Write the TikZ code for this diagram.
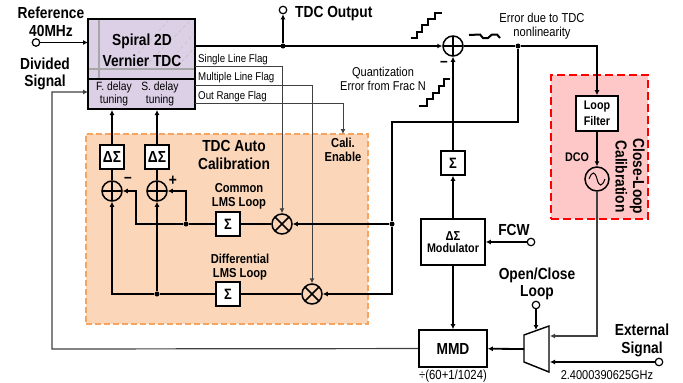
\documentclass[tikz,border=0pt]{standalone}
\usepackage{fontspec}
\setmainfont[FakeStretch=0.86]{Liberation Sans}
\usetikzlibrary{arrows.meta}
\definecolor{tdcfill}{HTML}{DCD0E6}
\definecolor{autofill}{HTML}{FBD6B8}
\definecolor{autoedge}{HTML}{F5A55F}
\definecolor{loopfill}{HTML}{FFC8C8}
\definecolor{darkline}{HTML}{404040}
\newcommand{\bigfont}{\fontsize{16}{17.5}\selectfont\bfseries}
\newcommand{\midfont}{\fontsize{13}{14}\selectfont\bfseries}
\newcommand{\smallfont}{\fontsize{12}{13}\selectfont}

\begin{document}
\begin{tikzpicture}[x=1pt,y=-1pt,>={Latex[length=5pt,width=5pt]},
  wire/.style={line width=1.5pt},
  thin wire/.style={line width=1pt,darkline},
  block/.style={draw,line width=1.6pt,fill=white,inner sep=0pt,align=center},
  sigma/.style={block,minimum size=24pt,font=\fontsize{15}{15}\selectfont\bfseries},
  port/.style={circle,draw,line width=1.2pt,fill=white,inner sep=0pt,minimum size=7.5pt},
  junction/.style={circle,fill,inner sep=0pt,minimum size=5pt},
  adder/.style={circle,draw,line width=1.5pt,inner sep=0pt,minimum size=20pt,
    path picture={\draw[line width=1.5pt]
      (path picture bounding box.north) -- (path picture bounding box.south)
      (path picture bounding box.west) -- (path picture bounding box.east);}},
  mixer/.style={circle,draw,line width=1.5pt,inner sep=0pt,minimum size=20pt,
    path picture={\draw[line width=1.5pt]
      (path picture bounding box.north west) -- (path picture bounding box.south east)
      (path picture bounding box.south west) -- (path picture bounding box.north east);}},
  big/.style={font=\bigfont,align=center,inner sep=0pt},
  mid/.style={font=\midfont,align=center,inner sep=0pt},
  small/.style={font=\smallfont,align=center,inner sep=0pt}]
  \useasboundingbox (0,0) rectangle (683,383);
  % shaded regions
  \node[draw=autoedge,fill=autofill,dash pattern=on 6pt off 3pt,line width=1.3pt,minimum width=282pt,minimum height=190pt,inner sep=0pt] (auto) at (227,229) {};
  \node[draw=red,fill=loopfill,dash pattern=on 8pt off 4pt,line width=1.4pt,minimum width=97pt,minimum height=144pt,inner sep=0pt] (closeloop) at (599.5,147) {};
  % TDC core
  \node[block,fill=tdcfill,minimum width=107pt,minimum height=90pt] (tdc) at (141.5,64) {};
  \draw[gray!45,dashed,line width=0.8pt] (130,62) -- (168,21) (145,66) -- (190,21) (165,66) -- (194,34) (178,66) -- (194,48);
  \draw[gray!70,line width=1.3pt] (99,20) -- (99,78) (89,69) -- (194,69);
  \draw[line width=1.6pt] (88,79) -- (195,79);
  \node[big] (tdcname) at (142,50) {Spiral 2D\\[3.5pt]Vernier TDC};
  \node[small] (fine) at (114,94) {F. delay\\tuning};
  \node[small] (coarse) at (160,94) {S. delay\\tuning};
  % inputs and outputs
  \node[big] (ref) at (51,22) {Reference\\40MHz};
  \node[port] (refin) at (36,42.5) {};
  \draw[->,line width=1pt] (refin) -- (88,42.5);
  \node[big] (divided) at (45,74) {Divided\\Signal};
  \node[big,anchor=west] (tdcout) at (295,14) {TDC Output};
  \node[port] (outpin) at (283,10) {};
  \node[junction] (outdot) at (283,46) {};
  \draw[->,wire] (outdot) -- (outpin);
  % phase error summer
  \node[adder] (sum) at (453,46) {};
  \draw[->,wire] (195,46) -- (sum);
  \node[junction] (errdot) at (518,46) {};
  \node[block,minimum width=42pt,minimum height=35pt,font=\fontsize{12.5}{16}\selectfont\bfseries] (filter) at (597,113.5) {Loop\\Filter};
  \draw[->,wire] (sum) -- (errdot) -| (filter);
  \draw[line width=2pt] (411,38) -- (417,38) -- (417,32) -- (422,32) -- (422,25) -- (428,25) -- (428,19) -- (435,19) -- (435,13) -- (442,13);
  \draw[line width=2pt] (419,106) -- (427,106) -- (427,99) -- (433,99) -- (433,93) -- (439,93) -- (439,86) -- (444,86) -- (444,79) -- (450,79);
  \draw[line width=2pt] (469,35) -- (480,34.5) -- (483,38) -- (488,38) -- (492,34.5) -- (497,34.5) -- (500,38);
  \node[small,font=\fontsize{13}{14}\selectfont] (errlab) at (542,26) {Error due to TDC\\nonlinearity};
  \node[small,font=\fontsize{12.8}{14}\selectfont] (quant) at (383,79) {Quantization\\Error from Frac N};
  \node[big] (minus) at (444,64) {--};
  % flags
  \node[small,anchor=west,font=\fontsize{11.3}{11}\selectfont] (single) at (198,60) {Single Line Flag};
  \node[small,anchor=west,font=\fontsize{11.3}{11}\selectfont] (multiple) at (198,78) {Multiple Line Flag};
  \node[small,anchor=west,font=\fontsize{11.3}{11}\selectfont] (range) at (198,97) {Out Range Flag};
  % auto calibration
  \node[big] (autoname) at (234,155) {TDC Auto\\Calibration};
  \node[mid] (enable) at (343,150) {Cali.\\Enable};
  \node[block,minimum size=24pt,font=\bigfont] (dsf) at (112,157) {ΔΣ};
  \node[block,minimum size=24pt,font=\bigfont] (dss) at (157,157) {ΔΣ};
  \node[adder] (addf) at (112,191) {};
  \node[adder] (adds) at (157,191) {};
  \node[big] (minusf) at (128,180) {--};
  \node[big] (pluss) at (173,181) {+};
  \node[sigma] (sigc) at (228,224) {Σ};
  \node[sigma] (sigd) at (228,294) {Σ};
  \node[mixer] (mixc) at (282,224) {};
  \node[mixer] (mixd) at (312,294) {};
  \node[mid] (commonlab) at (239,196) {Common\\LMS Loop};
  \node[mid] (difflab) at (240,267) {Differential\\LMS Loop};
  \node[junction] (cdot) at (186,224) {};
  \node[junction] (ddot) at (157,294) {};
  \draw[->,wire] (dsf) -- (112,110);
  \draw[->,wire] (dss) -- (157,110);
  \draw[wire] (addf) -- (dsf);
  \draw[wire] (adds) -- (dss);
  \draw[wire] (mixc) -- (sigc);
  \draw[wire] (sigc) -- (cdot);
  \draw[->,wire] (cdot) -- (136,224) |- (addf);
  \draw[->,wire] (cdot) |- (adds);
  \draw[wire] (mixd) -- (sigd);
  \draw[wire] (sigd) -- (ddot);
  \draw[->,wire] (ddot) -- (112,294) -- (addf);
  \draw[->,wire] (ddot) -- (adds);
  \draw[->,thin wire] (195,66) -| (mixc);
  \draw[->,thin wire] (195,85) -| (mixd);
  \draw[->,thin wire] (195,103) -| (343,134);
  % error fed back to the LMS loops
  \node[junction] (lmsdot) at (392,224) {};
  \draw[wire] (errdot) |- (392,122) -- (lmsdot);
  \draw[->,wire] (lmsdot) -- (mixc);
  \draw[->,wire] (lmsdot) |- (mixd);
  % frac N path
  \node[sigma] (sigq) at (453,163) {Σ};
  \node[block,minimum width=64pt,minimum height=46pt] (modulator) at (453,242) {\fontsize{13}{16}\selectfont\bfseries ΔΣ\\\fontsize{12.5}{15}\selectfont\bfseries Modulator};
  \node[block,minimum width=68pt,minimum height=37pt,font=\bigfont] (mmd) at (453,348.5) {MMD};
  \node[small,font=\fontsize{13.2}{13}\selectfont] (ratio) at (453,376) {÷(60+1/1024)};
  \node[big] (fcw) at (514,230) {FCW};
  \node[port] (fcwin) at (531,242) {};
  \draw[->,wire] (sigq) -- (sum);
  \draw[->,wire] (modulator) -- (sigq);
  \draw[->,wire] (fcwin) -- (modulator);
  \draw[->,wire] (modulator) -- (mmd);
  % oscillator
  \node[circle,draw,line width=1.5pt,inner sep=0pt,minimum size=24pt] (dco) at (597,179) {};
  \draw[line width=1pt] (589,179) .. controls (592,171) and (595,171) .. (597,179) .. controls (599,187) and (602,187) .. (605,179);
  \node[mid,font=\fontsize{12.5}{13}\selectfont\bfseries] (dcolab) at (577,157) {DCO};
  \draw[->,wire] (filter) -- (dco);
  \node[big,rotate=-90] (closelab) at (630,176.5) {Close-Loop\\Calibration};
  % loop select
  \coordinate (muxtl) at (524,335);
  \coordinate (muxtr) at (549,326);
  \coordinate (muxbr) at (549,372);
  \coordinate (muxbl) at (524,362);
  \draw[line width=1.4pt,fill=white] (muxtl) -- (muxtr) -- (muxbr) -- (muxbl) -- cycle;
  \node[big] (openlab) at (537,284) {Open/Close\\Loop};
  \node[port] (selin) at (536,305) {};
  \draw[->,wire] (selin) -- (536,330);
  \draw[->,line width=1.8pt] (524,349) -- (mmd);
  \node[port] (extin) at (659,362) {};
  \node[big] (extlab) at (642,340.5) {External\\Signal};
  \node[small,font=\fontsize{12.8}{13}\selectfont] (freq) at (607,375) {2.4000390625GHz};
  \draw[->,line width=1.1pt] (extin) -- (550,362);
  \draw[->,line width=1.2pt,darkline] (dco) |- (550,336);
  % divided clock return
  \draw[->,line width=1.2pt,darkline] (mmd) -- (52,349) -- (52,92) -- (88,92);
\end{tikzpicture}
\end{document}
